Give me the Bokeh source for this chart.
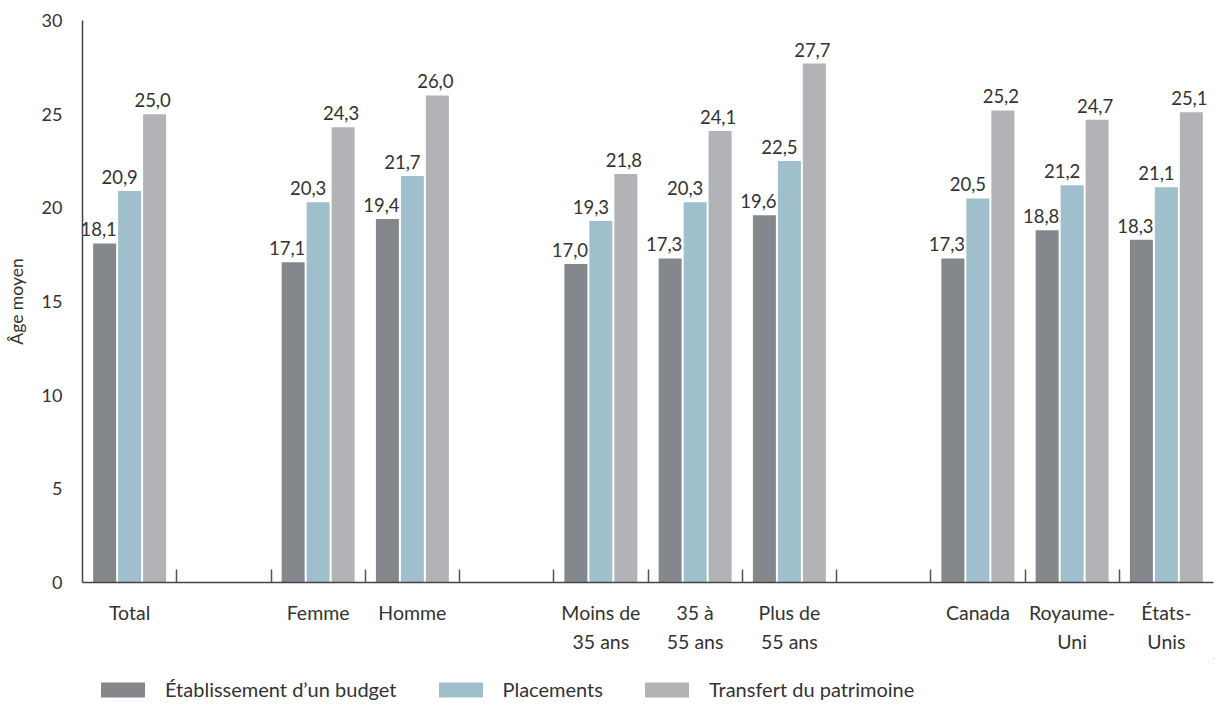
from bokeh.plotting import figure
from bokeh.models import ColumnDataSource, FixedTicker, Legend, LegendItem, Range1d
from bokeh.layouts import column
from bokeh.core.properties import value
from bokeh.embed import file_html
from bokeh.resources import INLINE

# ---- data ----
categories = ["Total", "", "Femme", "Homme", "", "Moins de\n35 ans", "35 à\n55 ans",
              "Plus de\n55 ans", "", "Canada", "Royaume-\nUni", "États-\nUnis"]
budget = [18.1, None, 17.1, 19.4, None, 17.0, 17.3, 19.6, None, 17.3, 18.8, 18.3]
placements = [20.9, None, 20.3, 21.7, None, 19.3, 20.3, 22.5, None, 20.5, 21.2, 21.1]
transfert = [25.0, None, 24.3, 26.0, None, 21.8, 24.1, 27.7, None, 25.2, 24.7, 25.1]
series_names = ["Établissement d\u2019un budget", "Placements", "Transfert du patrimoine"]
colors = ["#84878b", "#a0bfcc", "#b2b3b6"]
y_ticks = [0, 5, 10, 15, 20, 25, 30]

FONT = "Lato"
TXT = "#333333"
W = 1218
LEG_H = 46

n = len(categories)
p = figure(width=W, height=704 - LEG_H, output_backend="svg", toolbar_location=None,
           x_range=Range1d(0, n), y_range=Range1d(0, 30),
           min_border_left=82, min_border_right=5, min_border_top=20,
           min_border_bottom=704 - LEG_H - 582)
p.outline_line_color = None
p.grid.grid_line_color = None
p.background_fill_color = "white"

# legend strip (own figure so that the legend is not clipped by the chart frame)
lf = figure(width=W, height=LEG_H, output_backend="svg", toolbar_location=None,
            x_axis_type=None, y_axis_type=None, x_range=Range1d(-100, -99), y_range=Range1d(-100, -99),
            min_border=0)
lf.outline_line_color = None
lf.grid.grid_line_color = None

offsets = [-0.265, 0.0, 0.265]
label_dx = [-6, -10, -2]
items = []
sources = []
for vals, off, col, nm in zip([budget, placements, transfert], offsets, colors, series_names):
    xs, ys, labs = [], [], []
    for i, v in enumerate(vals):
        if v is None:
            continue
        xs.append(i + 0.5 + off)
        ys.append(v)
        labs.append(f"{v:.1f}".replace(".", ","))
    src = ColumnDataSource(dict(x=xs, top=ys, lab=labs))
    sources.append(src)
    p.vbar(x="x", top="top", bottom=0, width=0.244, source=src,
           fill_color=col, line_color=None)
    # same data in the legend strip, outside its visible range: only the legend swatch shows
    r = lf.vbar(x="x", top="top", bottom=0, width=0.244, source=src,
                fill_color=col, line_color=None)
    items.append(LegendItem(label=nm, renderers=[r]))

for src, dx in zip(sources, label_dx):
    p.text(x="x", y="top", text="lab", source=src, text_align="center",
           text_baseline="bottom", x_offset=dx, y_offset=-7, text_font_size="18.5px",
           text_color=TXT, text_font=value(FONT))

# x axis: labels at slot centres, small ticks at slot boundaries
centers = [i + 0.5 for i in range(n)]
bounds = [i for i in range(1, n)]
p.xaxis.ticker = FixedTicker(ticks=centers, minor_ticks=bounds)
p.xaxis.major_label_overrides = {c: lab for c, lab in zip(centers, categories)}
p.xaxis.major_tick_line_color = None
p.xaxis.minor_tick_in = 13
p.xaxis.minor_tick_out = 0
p.xaxis.minor_tick_line_color = "#555555"
p.xaxis.minor_tick_line_width = 1.5
p.xaxis.axis_line_color = "#444444"
p.xaxis.axis_line_width = 1.5
p.xaxis.major_label_standoff = 12
p.xaxis.major_label_text_font = FONT
p.xaxis.major_label_text_font_size = "19.5px"
p.xaxis.major_label_text_line_height = 1.3
p.xaxis.major_label_text_color = TXT

p.yaxis.ticker = FixedTicker(ticks=y_ticks)
p.yaxis.major_tick_line_color = None
p.yaxis.minor_tick_line_color = None
p.yaxis.axis_line_color = "#444444"
p.yaxis.axis_line_width = 1.5
p.yaxis.major_label_standoff = 14
p.yaxis.major_label_text_font = FONT
p.yaxis.major_label_text_font_size = "18px"
p.yaxis.major_label_text_color = TXT
p.yaxis.axis_label = "Âge moyen"
p.yaxis.axis_label_text_font = FONT
p.yaxis.axis_label_text_font_style = "normal"
p.yaxis.axis_label_text_font_size = "17.5px"
p.yaxis.axis_label_text_color = TXT
p.yaxis.axis_label_standoff = 12

legend = Legend(items=items, orientation="horizontal", location=(13, 3),
                glyph_width=55, glyph_height=19, label_height=19,
                label_standoff=15, spacing=36, padding=0, margin=0, border_line_color=None,
                label_text_font=FONT, label_text_font_size="20px", label_text_color=TXT,
                background_fill_alpha=0)
lf.add_layout(legend)

open("out.html", "w").write(file_html(column(p, lf, spacing=0), INLINE))
